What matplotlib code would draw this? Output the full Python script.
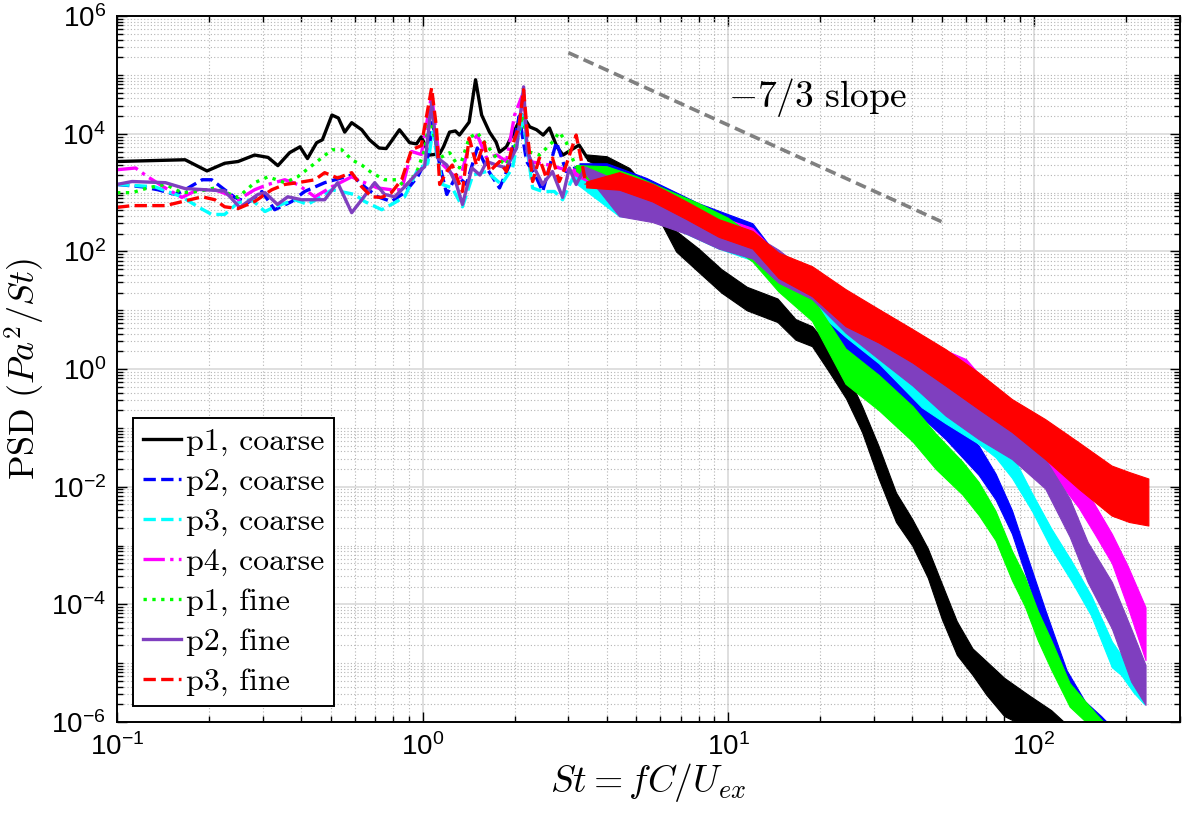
import numpy as np
import matplotlib.pyplot as plt
from matplotlib.ticker import FixedLocator, LogLocator, NullFormatter, FuncFormatter

plt.rcParams['font.family'] = ['Liberation Sans', 'DejaVu Sans']
plt.rcParams['mathtext.fontset'] = 'cm'

# PSD read off the log axis as exponents (PSD = 10**value)
# low-frequency part: single wiggly line; high-frequency part: noisy band (lo/hi edges)

# p1, coarse
p1c_st = [0.1, 0.167, 0.197, 0.225, 0.249, 0.282, 0.312, 0.336, 0.367, 0.397, 0.42, 0.45, 0.47, 0.505,
          0.53, 0.556, 0.586, 0.632, 0.67, 0.72, 0.76, 0.84, 0.907, 0.955, 0.99, 1.054, 1.137, 1.17, 1.225,
          1.28, 1.32, 1.42, 1.49, 1.56, 1.655, 1.74, 1.785, 1.88, 2.04, 2.12, 2.24, 2.36, 2.48, 2.6, 2.75,
          2.88, 3.25, 3.45]
p1c_lg = [3.53, 3.56, 3.37, 3.50, 3.53, 3.64, 3.60, 3.46, 3.68, 3.78, 3.58, 3.85, 3.90, 4.32,
          4.27, 4.03, 4.19, 4.07, 3.90, 3.76, 3.75, 4.07, 3.85, 3.83, 3.95, 3.64, 3.66, 3.78, 4.03,
          4.05, 3.98, 4.20, 4.92, 4.32, 4.03, 3.86, 3.69, 3.78, 4.15, 4.32, 4.12, 4.07, 3.98, 4.10, 3.78,
          3.64, 3.81, 3.60]
p1c_band_st = [3.45, 4.0, 4.75, 5.6, 6.75, 8.0, 9.5, 11.5, 14.5, 16.6, 18.8, 21.4, 24.3, 27.4, 31.0,
               35.4, 40.0, 45.0, 50.0, 56.0, 63.0, 70.0, 80.0, 96.0, 114.0, 135.0]
p1c_band_lo = [3.55, 3.40, 3.20, 2.80, 2.00, 1.65, 1.30, 1.00, 0.80, 0.50, 0.39, -0.05, -0.50, -1.07, -1.85,
               -2.60, -3.00, -3.55, -4.25, -4.86, -5.20, -5.54, -5.90, -6.10, -6.30, -6.60]
p1c_band_hi = [3.65, 3.62, 3.42, 3.02, 2.35, 2.05, 1.70, 1.40, 1.20, 0.85, 0.73, 0.39, -0.05, -0.63, -1.30,
               -2.10, -2.55, -3.05, -3.65, -4.29, -4.75, -4.97, -5.25, -5.54, -5.80, -6.15]

# p2, coarse
p2c_st = [0.1, 0.121, 0.136, 0.155, 0.167, 0.19, 0.204, 0.225, 0.243, 0.268, 0.298, 0.328, 0.373, 0.411,
          0.478, 0.586, 0.646, 0.713, 0.79, 0.873, 0.963, 1.04, 1.078, 1.137, 1.2, 1.29, 1.39, 1.51, 1.62,
          1.785, 1.924, 2.07, 2.19, 2.36, 2.47, 2.74, 2.95, 3.26]
p2c_lg = [3.14, 3.10, 3.05, 2.97, 3.05, 3.22, 3.22, 3.05, 2.92, 2.83, 3.02, 2.71, 2.85, 3.02,
          3.17, 3.30, 3.10, 2.93, 2.85, 3.00, 3.27, 3.61, 4.20, 3.47, 2.97, 3.30, 3.14, 3.76, 3.42,
          3.08, 3.47, 4.30, 3.53, 3.25, 3.02, 3.86, 3.36, 3.45]
p2c_band_st = [3.26, 4.0, 5.4, 8.0, 12.0, 14.6, 18.8, 24.2, 31.1, 40.1, 51.4, 66.0, 75.0, 84.8, 96.1,
               108.9, 117.0, 128.0, 147.0, 166.0, 185.0]
p2c_band_lo = [3.40, 3.10, 2.90, 2.48, 2.10, 1.40, 1.00, 0.35, -0.17, -0.67, -1.19, -1.80, -2.22, -2.80, -3.65,
               -4.49, -4.95, -5.48, -5.95, -6.20, -6.45]
p2c_band_hi = [3.50, 3.50, 3.25, 2.82, 2.48, 1.90, 1.50, 0.85, 0.27, -0.23, -0.75, -1.30, -1.78, -2.40, -3.25,
               -4.09, -4.55, -5.12, -5.65, -5.90, -6.15]

# p3, coarse
p3c_st = [0.1, 0.133, 0.163, 0.184, 0.204, 0.225, 0.249, 0.276, 0.305, 0.328, 0.382, 0.421, 0.505, 0.599,
          0.646, 0.735, 0.81, 0.873, 0.963, 1.04, 1.078, 1.16, 1.25, 1.35, 1.46, 1.62, 1.81, 1.97, 2.12,
          2.29, 2.47, 2.7, 2.87, 3.1]
p3c_lg = [3.14, 3.10, 2.93, 2.76, 2.63, 2.63, 2.83, 2.88, 2.68, 2.76, 2.88, 2.80, 3.05, 2.97,
          2.85, 2.71, 2.83, 2.93, 3.39, 3.50, 4.03, 3.14, 3.08, 2.76, 3.30, 3.36, 3.14, 3.42, 4.32,
          3.08, 3.02, 3.02, 2.88, 3.25]
p3c_band_st = [3.1, 4.4, 5.65, 7.3, 9.3, 12.0, 14.6, 18.8, 24.2, 31.1, 43.0, 51.4, 66.0, 75.0, 84.8,
               98.6, 114.0, 133.0, 154.0, 180.0, 193.0, 212.0, 230.0]
p3c_band_lo = [3.20, 2.60, 2.55, 2.30, 2.05, 1.85, 1.43, 1.06, 0.55, 0.10, -0.65, -0.92, -1.27, -1.50, -1.85,
               -2.41, -3.05, -3.61, -4.19, -5.07, -5.20, -5.50, -5.70]
p3c_band_hi = [3.30, 3.10, 2.95, 2.70, 2.45, 2.25, 1.87, 1.50, 1.05, 0.60, -0.25, -0.48, -0.83, -1.10, -1.45,
               -2.11, -2.71, -3.27, -3.85, -4.63, -4.86, -5.10, -5.30]

# p4, coarse
p4c_st = [0.1, 0.115, 0.126, 0.144, 0.163, 0.184, 0.209, 0.23, 0.249, 0.282, 0.312, 0.354, 0.39, 0.444,
          0.505, 0.586, 0.646, 0.713, 0.79, 0.854, 0.92, 0.99, 1.07, 1.137, 1.225, 1.32, 1.42, 1.51, 1.62,
          1.75, 1.88, 2.0, 2.12, 2.24, 2.41, 2.6, 2.8, 3.1]
p4c_lg = [3.39, 3.42, 3.27, 3.08, 2.92, 3.05, 3.05, 2.97, 2.88, 3.05, 3.14, 3.22, 3.14, 2.93,
          3.10, 3.27, 3.17, 3.08, 3.05, 3.05, 3.70, 3.65, 4.66, 3.53, 3.36, 3.19, 3.81, 3.98, 3.59,
          3.64, 3.53, 4.32, 4.66, 3.53, 3.50, 3.47, 3.42, 3.36]
p4c_band_st = [3.1, 4.4, 5.65, 7.3, 9.3, 12.0, 14.6, 18.8, 24.2, 31.1, 40.1, 51.4, 60.0, 66.0, 84.8,
               108.9, 123.0, 140.0, 158.0, 180.0, 203.0, 232.0]
p4c_band_lo = [3.31, 2.93, 2.71, 2.43, 2.16, 1.96, 1.50, 1.20, 0.73, 0.43, 0.08, -0.12, -0.27, -0.52, -1.07,
               -1.57, -1.97, -2.35, -2.80, -3.30, -4.05, -4.95]
p4c_band_hi = [3.41, 3.37, 3.15, 2.87, 2.60, 2.40, 1.94, 1.64, 1.17, 0.87, 0.52, 0.32, 0.17, -0.08, -0.63,
               -1.13, -1.53, -1.85, -2.30, -2.80, -3.35, -4.05]

# p1, fine
p1f_st = [0.1, 0.112, 0.126, 0.144, 0.163, 0.184, 0.209, 0.249, 0.282, 0.312, 0.354, 0.39, 0.444, 0.505,
          0.544, 0.586, 0.632, 0.681, 0.751, 0.829, 0.873, 0.92, 0.963, 1.015, 1.054, 1.137, 1.225, 1.32,
          1.42, 1.51, 1.62, 1.745, 1.88, 2.03, 2.12, 2.24, 2.41, 2.66, 2.8, 2.95, 3.18]
p1f_lg = [3.00, 3.00, 3.08, 3.14, 3.00, 3.02, 3.08, 2.92, 3.17, 3.27, 3.17, 3.27, 3.50, 3.73,
          3.73, 3.56, 3.47, 3.34, 3.22, 3.22, 3.10, 3.22, 3.39, 3.73, 4.27, 3.59, 3.68, 3.42,
          3.93, 4.02, 3.81, 3.59, 3.47, 3.86, 4.32, 3.69, 3.64, 3.86, 4.03, 3.86, 3.42]
p1f_band_st = [3.18, 4.0, 5.0, 6.5, 8.0, 10.0, 12.0, 14.6, 18.8, 24.2, 31.1, 40.1, 47.8, 58.3, 66.0,
               74.9, 84.8, 93.4, 103.0, 114.0, 131.0, 159.0, 180.0]
p1f_band_lo = [3.37, 3.00, 2.80, 2.58, 2.38, 2.13, 1.83, 1.32, 0.82, -0.25, -0.70, -1.23, -1.70, -2.13, -2.48,
               -2.91, -3.59, -4.03, -4.61, -5.11, -5.74, -6.15, -6.45]
p1f_band_hi = [3.47, 3.45, 3.28, 3.02, 2.82, 2.57, 2.27, 1.88, 1.22, 0.35, -0.10, -0.63, -1.10, -1.57, -1.92,
               -2.41, -3.09, -3.53, -4.11, -4.61, -5.34, -5.85, -6.15]

# p2, fine
p2f_st = [0.1, 0.112, 0.144, 0.167, 0.225, 0.252, 0.289, 0.305, 0.335, 0.362, 0.402, 0.478, 0.527, 0.586,
          0.632, 0.697, 0.751, 0.81, 0.873, 0.963, 1.015, 1.07, 1.12, 1.2, 1.29, 1.35, 1.45, 1.54, 1.62,
          1.745, 1.88, 2.03, 2.14, 2.2, 2.32, 2.47, 2.66, 2.87, 3.02, 3.18, 3.38]
p2f_lg = [3.14, 3.19, 3.17, 3.07, 3.03, 2.75, 2.97, 3.00, 2.80, 2.93, 2.88, 2.88, 3.17, 2.66,
          2.88, 3.17, 2.97, 2.93, 3.10, 3.34, 3.44, 4.54, 3.59, 3.47, 3.14, 2.80, 3.42, 3.30, 3.53,
          3.47, 3.42, 3.76, 4.80, 3.69, 3.42, 3.14, 3.36, 2.92, 3.42, 3.14, 3.40]
p2f_band_st = [3.38, 4.4, 5.65, 7.3, 9.3, 12.0, 14.6, 18.8, 24.2, 31.1, 40.1, 51.4, 66.0, 84.8, 108.9,
               131.0, 150.0, 180.0, 208.0, 232.0]
p2f_band_lo = [3.35, 2.60, 2.50, 2.30, 2.05, 1.88, 1.47, 1.19, 0.62, 0.17, -0.28, -0.79, -1.19, -1.53, -2.03,
               -2.85, -3.62, -4.41, -5.31, -5.71]
p2f_band_hi = [3.45, 3.20, 3.00, 2.75, 2.50, 2.30, 2.03, 1.58, 1.19, 0.74, 0.34, -0.17, -0.62, -1.07, -1.53,
               -2.20, -2.94, -3.62, -4.41, -5.03]

# p3, fine
p3f_st = [0.1, 0.112, 0.144, 0.167, 0.19, 0.209, 0.225, 0.249, 0.282, 0.321, 0.354, 0.39, 0.444, 0.478,
          0.527, 0.586, 0.632, 0.681, 0.735, 0.79, 0.854, 0.92, 0.99, 1.07, 1.11, 1.137, 1.2, 1.25, 1.32,
          1.35, 1.42, 1.5, 1.59, 1.655, 1.785, 1.88, 1.97, 2.07, 2.14, 2.2, 2.29, 2.41, 2.54, 2.66, 2.8,
          2.95, 3.18, 3.43]
p3f_lg = [2.75, 2.78, 2.78, 2.86, 2.93, 2.88, 2.76, 2.73, 2.85, 3.05, 3.14, 3.17, 3.22, 3.34,
          3.25, 3.34, 3.10, 2.93, 2.92, 3.00, 3.22, 3.73, 3.80, 4.78, 4.10, 3.14, 3.36, 3.47, 3.14,
          3.02, 3.93, 3.47, 3.86, 3.36, 3.53, 3.36, 3.81, 4.15, 4.75, 4.03, 3.19, 3.59, 3.25, 3.59, 3.19,
          3.47, 3.98, 3.14]
p3f_band_st = [3.43, 4.4, 5.65, 7.3, 9.3, 12.0, 14.6, 18.8, 24.2, 31.1, 40.1, 51.4, 66.0, 84.8, 108.9,
               139.8, 179.6, 205.0, 237.0]
p3f_band_lo = [3.09, 3.05, 2.85, 2.55, 2.25, 2.05, 1.55, 1.24, 0.73, 0.45, 0.11, -0.28, -0.68, -1.07, -1.53,
               -2.03, -2.49, -2.60, -2.66]
p3f_band_hi = [3.19, 3.35, 3.15, 2.85, 2.55, 2.35, 1.98, 1.75, 1.36, 1.02, 0.68, 0.34, -0.06, -0.51, -0.85,
               -1.24, -1.64, -1.75, -1.86]

# reference slope line end points
slope_st = [3.0, 50.0]
slope_psd = [2.4e5, 3.2e2]

x_ticks = [0.1, 1, 10, 100]
y_ticks = [1e-6, 1e-4, 1e-2, 1e0, 1e2, 1e4, 1e6]

series = [
    (p1c_st, p1c_lg, p1c_band_st, p1c_band_lo, p1c_band_hi, 'black', '-', 'p1, coarse'),
    (p2c_st, p2c_lg, p2c_band_st, p2c_band_lo, p2c_band_hi, '#0000ff', '--', 'p2, coarse'),
    (p3c_st, p3c_lg, p3c_band_st, p3c_band_lo, p3c_band_hi, '#00ffff', '--', 'p3, coarse'),
    (p4c_st, p4c_lg, p4c_band_st, p4c_band_lo, p4c_band_hi, '#ff00ff', '-.', 'p4, coarse'),
    (p1f_st, p1f_lg, p1f_band_st, p1f_band_lo, p1f_band_hi, '#00ff00', ':', 'p1, fine'),
    (p2f_st, p2f_lg, p2f_band_st, p2f_band_lo, p2f_band_hi, '#7f3fbf', '-', 'p2, fine'),
    (p3f_st, p3f_lg, p3f_band_st, p3f_band_lo, p3f_band_hi, '#ff0000', '--', 'p3, fine'),
]

fig = plt.figure(figsize=(11.82, 8.13), dpi=100)
ax = fig.add_axes([0.099, 0.112, 0.899, 0.868])
ax.set_xscale('log')
ax.set_yscale('log')

for i, (st, lg, bst, blo, bhi, c, ls, lab) in enumerate(series):
    z = 2 + i
    ax.fill_between(bst, 10.0 ** np.array(blo), 10.0 ** np.array(bhi), color=c, lw=0.8, edgecolor=c, zorder=z)
    ax.plot(st, 10.0 ** np.array(lg), color=c, ls=ls, lw=2.4, label=lab, zorder=z)

ax.plot(slope_st, slope_psd, color='#808080', ls='--', lw=2.6, dashes=(3, 1.6), zorder=10)
ax.text(10.0, 4.1e4, r'$-7/3\ \mathrm{slope}$', fontsize=27, ha='left', va='center')

ax.set_xlim(0.1, 300)
ax.set_ylim(1e-6, 1e6)
ax.xaxis.set_major_locator(FixedLocator(x_ticks))
ax.yaxis.set_major_locator(FixedLocator(y_ticks))
fmt = FuncFormatter(lambda v, _: r'$\mathdefault{10^{%d}}$' % round(np.log10(v)))
ax.xaxis.set_major_formatter(fmt)
ax.yaxis.set_major_formatter(fmt)
for a in (ax.xaxis, ax.yaxis):
    a.set_minor_locator(LogLocator(base=10, subs=np.arange(1, 10), numticks=60))
    a.set_minor_formatter(NullFormatter())

ax.grid(True, which='major', color='#dcdcdc', lw=1.3, ls='-')
ax.grid(True, which='minor', color='#b4b4b4', lw=0.8, ls=(0, (1, 2)))
ax.set_axisbelow(True)
ax.tick_params(which='both', direction='in', top=True, right=True, width=1.0)
ax.tick_params(which='major', length=7, labelsize=20, pad=8)
ax.tick_params(which='minor', length=4)
for s in ax.spines.values():
    s.set_linewidth(1.4)
    s.set_zorder(12)

ax.set_xlabel(r'$St = fC/U_{ex}$', fontsize=27, labelpad=0)
ax.set_ylabel(r'$\mathrm{PSD}\ (Pa^2/St)$', fontsize=26, labelpad=3)

leg = ax.legend(loc='lower left', prop={'family': 'cmr10', 'size': 23}, frameon=True, fancybox=False,
                framealpha=1, edgecolor='black', handlelength=1.2, handletextpad=0.15, labelspacing=0.36,
                borderpad=0.3, borderaxespad=0.5)
leg.get_frame().set_linewidth(1.4)
leg.set_zorder(20)

fig.savefig('out.png', dpi=100)
